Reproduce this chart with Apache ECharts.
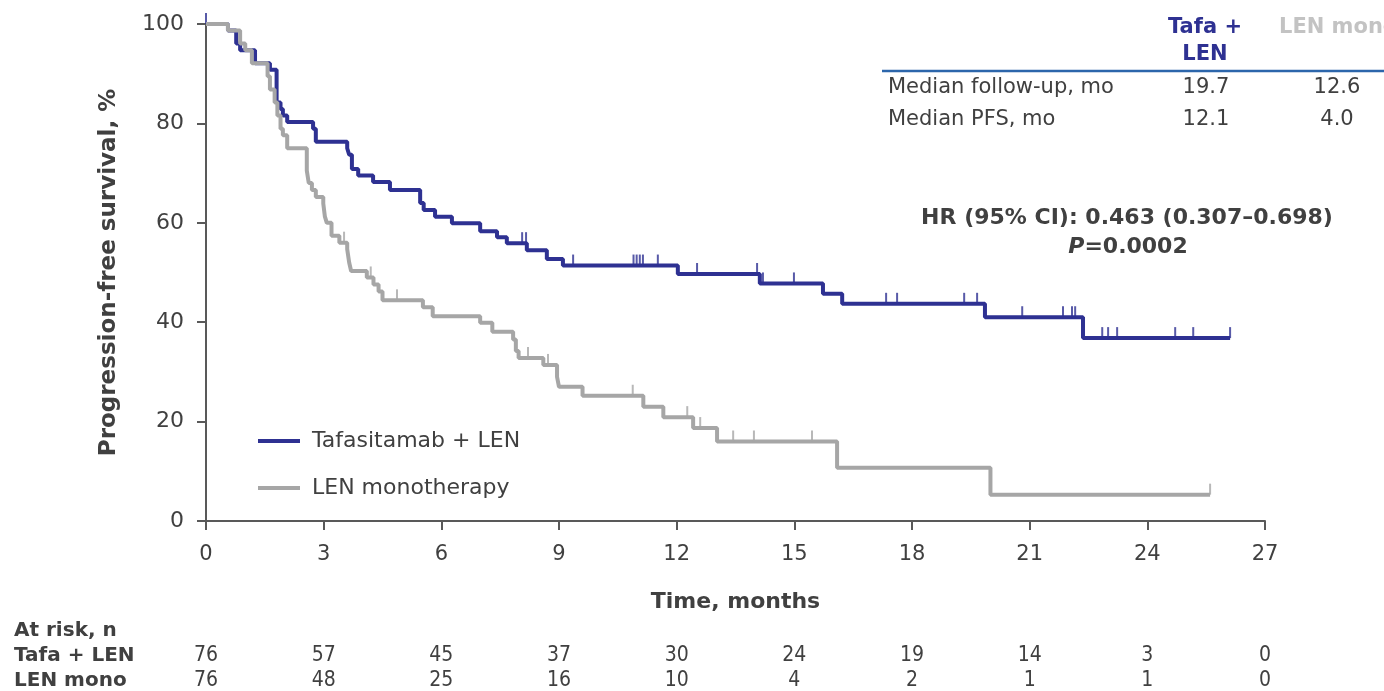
<!DOCTYPE html>
<html><head><meta charset="utf-8">
<script src="https://cdn.jsdelivr.net/npm/echarts@6/dist/echarts.min.js"></script>
<style>html,body{margin:0;padding:0;background:#fff}#c{width:1384px;height:691px}</style>
</head><body><div id="c"></div><script>
// ---- Data ----
const tafaTimes = [0, 0.56, 0.77, 0.87, 1.25, 1.63, 1.80, 1.90, 1.96, 2.07, 2.73, 2.80, 3.60, 3.65, 3.72, 3.88, 4.26, 4.69, 5.46, 5.55, 5.84, 6.27, 6.99, 7.42, 7.67, 8.18, 8.69, 9.10, 12.03, 14.12, 15.73, 16.22, 19.86, 22.36, 26.11];
const tafaSurv  = [100, 98.7, 96.1, 94.7, 92.1, 90.8, 84.2, 82.9, 81.6, 80.3, 78.9, 76.3, 75.0, 73.7, 70.8, 69.5, 68.2, 66.6, 64.0, 62.6, 61.2, 59.9, 58.3, 57.1, 55.9, 54.5, 52.7, 51.4, 49.7, 47.8, 45.7, 43.7, 41.0, 36.8, 36.8];
const tafaCensor = [0, 8.06, 8.16, 9.36, 10.90, 10.98, 11.06, 11.14, 11.52, 12.52, 14.05, 14.20, 14.99, 17.34, 17.62, 19.33, 19.66, 20.81, 21.85, 22.08, 22.16, 22.85, 23.00, 23.23, 24.71, 25.17, 26.11];

const lenTimes = [0, 0.56, 0.87, 1.00, 1.17, 1.57, 1.63, 1.75, 1.82, 1.90, 1.96, 2.07, 2.57, 2.62, 2.70, 2.80, 2.99, 3.03, 3.08, 3.20, 3.40, 3.60, 3.65, 3.70, 4.10, 4.27, 4.40, 4.50, 5.53, 5.78, 6.99, 7.30, 7.83, 7.90, 7.97, 8.60, 8.95, 9.00, 9.60, 11.15, 11.66, 12.42, 13.03, 16.09, 20.00, 25.60];
const lenSurv  = [100, 98.7, 96.1, 94.7, 92.1, 89.5, 86.8, 84.2, 81.6, 78.9, 77.6, 75.0, 70.5, 68.0, 66.6, 65.2, 63.9, 61.3, 60.0, 57.4, 56.0, 54.7, 52.0, 50.3, 49.0, 47.6, 46.2, 44.4, 43.0, 41.2, 39.9, 38.1, 36.5, 34.2, 32.8, 31.4, 29.0, 27.0, 25.2, 23.0, 20.9, 18.7, 16.0, 10.7, 5.3, 5.3];
const lenCensor = [3.52, 4.20, 4.87, 8.21, 8.72, 10.88, 12.27, 12.60, 13.44, 13.97, 15.45, 25.60];

const seriesNames = ['Tafasitamab + LEN', 'LEN monotherapy'];
const xTicks = [0, 3, 6, 9, 12, 15, 18, 21, 24, 27];
const riskLabels = ['At risk, n', 'Tafa + LEN', 'LEN mono'];
const tafaRisk = [76, 57, 45, 37, 30, 24, 19, 14, 3, 0];
const lenRisk  = [76, 48, 25, 16, 10, 4, 2, 1, 1, 0];

const tableHeader = ['Tafa +', 'LEN', 'LEN mono'];
const tableRowLabels = ['Median follow-up, mo', 'Median PFS, mo'];
const tableTafa = ['19.7', '12.1'];
const tableLen  = ['12.6', '4.0'];
const hrText = 'HR (95% CI): 0.463 (0.307\u20130.698)';
const pText = '0.0002';

// ---- Styling ----
const BLUE = '#2e3192';
const GRAY = '#a6a6a6';
const AXIS = '#595959';
const TXT = '#404040';
const FONT = 'DejaVu Sans';

function survAt(times, surv, t) {
  let v = surv[0];
  for (let i = 0; i < times.length; i++) if (times[i] <= t) v = surv[i];
  return v;
}
const pairs = (a, b) => a.map((t, i) => [t, b[i]]);

const chart = echarts.init(document.getElementById('c'), null, {renderer: 'canvas'});

const option = {
  animation: false,
  backgroundColor: '#fff',
  textStyle: {fontFamily: FONT},
  grid: {left: 206, right: 119, top: 24, bottom: 170, containLabel: false},
  legend: {
    data: seriesNames,
    orient: 'vertical',
    left: 258, top: 430, padding: 0,
    itemWidth: 42, itemHeight: 4,
    itemGap: 25,
    icon: 'rect',
    textStyle: {fontSize: 22, color: TXT, fontFamily: FONT, padding: [0, 0, 0, 7]}
  },
  xAxis: {
    type: 'value', min: 0, max: 27, interval: 3,
    axisLine: {show: true, lineStyle: {color: AXIS, width: 2}},
    axisTick: {show: true, length: 9, lineStyle: {color: AXIS, width: 2}},
    splitLine: {show: false},
    axisLabel: {fontSize: 21, color: TXT, margin: 23, fontFamily: FONT},
    name: 'Time, months', nameLocation: 'middle', nameGap: 70,
    nameTextStyle: {fontSize: 22, fontWeight: 'bold', color: TXT, fontFamily: FONT}
  },
  yAxis: {
    type: 'value', min: 0, max: 100, interval: 20,
    axisLine: {show: true, lineStyle: {color: AXIS, width: 2}},
    axisTick: {show: true, length: 9, lineStyle: {color: AXIS, width: 2}},
    splitLine: {show: false},
    axisLabel: {fontSize: 22, color: TXT, margin: 22, fontFamily: FONT},
    name: 'Progression-free survival, %', nameLocation: 'middle', nameGap: 85,
    nameTextStyle: {fontSize: 23, fontWeight: 'bold', color: TXT, fontFamily: FONT}
  },
  series: [
    {name: seriesNames[0], type: 'line', step: 'end', showSymbol: false, z: 2,
     data: pairs(tafaTimes, tafaSurv), color: BLUE,
     lineStyle: {color: BLUE, width: 4}},
    {name: seriesNames[1], type: 'line', step: 'end', showSymbol: false, z: 3,
     data: pairs(lenTimes, lenSurv), color: GRAY,
     lineStyle: {color: GRAY, width: 4}},
    {name: 'tafaCens', type: 'scatter', symbol: 'rect', symbolSize: [2, 11], symbolOffset: [0, -5.5], z: 2,
     itemStyle: {color: BLUE},
     data: tafaCensor.map(t => [t, survAt(tafaTimes, tafaSurv, t)])},
    {name: 'lenCens', type: 'scatter', symbol: 'rect', symbolSize: [2, 11], symbolOffset: [0, -5.5], z: 3,
     itemStyle: {color: GRAY},
     data: lenCensor.map(t => [t, survAt(lenTimes, lenSurv, t)])}
  ]
};
chart.setOption(option);

// ---- Text elements ----
function txt(text, x, y, opts) {
  opts = opts || {};
  return {type: 'text', silent: true, z: 10, style: Object.assign({
    text: text, x: x, y: y, fill: TXT, fontSize: 21, fontFamily: FONT,
    textAlign: 'center', textVerticalAlign: 'middle'}, opts)};
}
const g = [];
// Top-right table
g.push(txt(tableHeader[0], 1205, 28, {fill: BLUE, fontWeight: 'bold', fontSize: 21}));
g.push(txt(tableHeader[1], 1205, 55, {fill: BLUE, fontWeight: 'bold', fontSize: 21}));
g.push(txt(tableHeader[2], 1279, 28, {fill: '#c3c3c3', fontWeight: 'bold', fontSize: 21, textAlign: 'left'}));
g.push({type: 'line', silent: true, shape: {x1: 882, y1: 71, x2: 1384, y2: 71}, style: {stroke: '#2c66ab', lineWidth: 2.5}});
const rowY = [88, 120];
tableRowLabels.forEach((l, i) => {
  g.push(txt(l, 888, rowY[i], {textAlign: 'left'}));
  g.push(txt(tableTafa[i], 1206, rowY[i]));
  g.push(txt(tableLen[i], 1337, rowY[i]));
});
// HR text
g.push(txt(hrText, 1127, 218, {fontWeight: 'bold', fontSize: 22}));
g.push({type: 'text', silent: true, z: 10, style: {
  text: '{i|P}{b|=' + pText + '}', x: 1128, y: 247, textAlign: 'center', textVerticalAlign: 'middle',
  rich: {i: {fontStyle: 'italic', fontWeight: 'bold', fontSize: 22, fill: TXT, fontFamily: FONT},
         b: {fontWeight: 'bold', fontSize: 22, fill: TXT, fontFamily: FONT}}}});
// At-risk table
const riskY = [631, 656, 681];
riskLabels.forEach((l, i) => g.push(txt(l, 14, riskY[i], {textAlign: 'left', fontWeight: 'bold', fontSize: 20})));
xTicks.forEach((t, i) => {
  const px = chart.convertToPixel({xAxisIndex: 0}, t);
  g.push(txt(String(tafaRisk[i]), px, riskY[1], {fontFamily: 'DejaVu Sans Condensed', fontSize: 21}));
  g.push(txt(String(lenRisk[i]), px, riskY[2], {fontFamily: 'DejaVu Sans Condensed', fontSize: 21}));
});
chart.setOption({graphic: g});
</script></body></html>
